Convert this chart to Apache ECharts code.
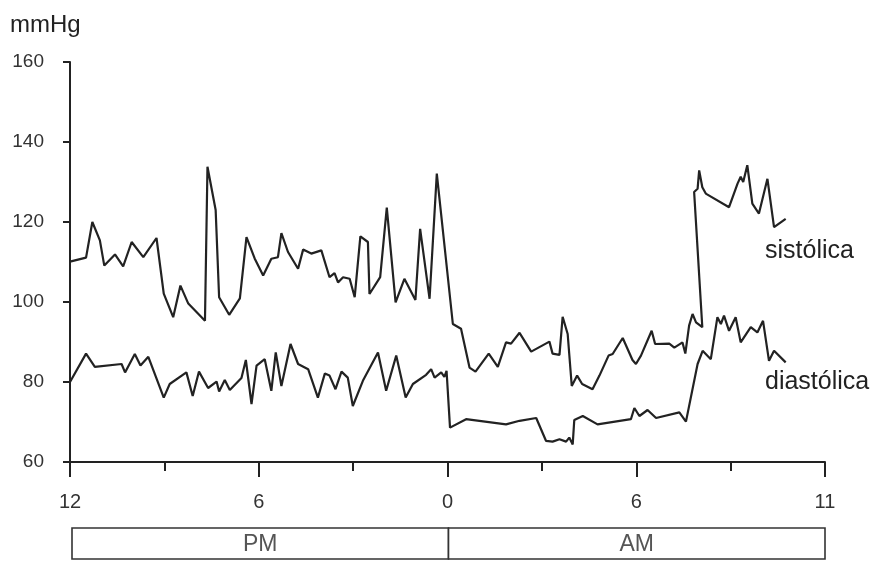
<!DOCTYPE html>
<html>
<head>
<meta charset="utf-8">
<script src="https://cdn.jsdelivr.net/npm/echarts@6/dist/echarts.min.js"></script>
<style>
html,body{margin:0;padding:0;background:#fff;}
#chart{width:879px;height:565px;}
</style>
</head>
<body>
<div id="chart"></div>
<script>
// hours after 12 PM (noon), mmHg
const systolic = [[0,110.1],[0.51,111.1],[0.71,120],[0.95,115.4],[1.09,109.1],[1.43,111.9],[1.69,108.9],[1.96,115],[2.33,111.2],[2.75,116],[2.98,102.1],[3.28,96.2],[3.51,104.1],[3.76,99.6],[4.29,95.3],[4.37,133.8],[4.63,123],[4.74,101.2],[5.06,96.8],[5.4,100.9],[5.61,116.2],[5.87,110.9],[6.14,106.6],[6.4,110.8],[6.61,111.2],[6.72,117.2],[6.93,112.5],[7.25,108.3],[7.41,113.1],[7.67,112.1],[7.99,112.9],[8.25,106.2],[8.41,107.2],[8.52,104.9],[8.68,106.2],[8.89,105.8],[9.05,101.2],[9.23,116.4],[9.47,115],[9.52,102],[9.86,106.2],[10.07,123.6],[10.35,99.9],[10.63,105.8],[10.98,100.5],[11.13,118.3],[11.43,100.8],[11.66,132.1],[12.17,94.5],[12.43,93.3],[12.7,83.6],[12.89,82.6],[13.31,87.1],[13.6,83.8],[13.86,89.9],[14.02,89.6],[14.29,92.3],[14.66,87.6],[15.24,90.1],[15.34,87.1],[15.56,86.8],[15.66,96.3],[15.82,92],[15.95,79],[16.12,81.6],[16.28,79.5],[16.61,78.2],[16.83,81.6],[17.12,86.6],[17.25,87],[17.57,91],[17.88,85.5],[17.99,84.5],[18.15,86.6],[18.49,92.8],[18.6,89.5],[19.05,89.6],[19.21,88.6],[19.47,89.9],[19.56,87.1],[19.68,94.1],[19.79,97],[19.9,94.9],[20.1,93.7],[19.84,127.5],[19.95,128.3],[20,132.9],[20.1,128.7],[20.21,127.1],[20.95,123.7],[21.22,129.6],[21.32,131.3],[21.4,130],[21.53,134.2],[21.69,124.6],[21.9,122.1],[22.17,130.8],[22.38,118.7],[22.75,120.8]];
const diastolic = [[0,80],[0.51,87.1],[0.79,83.8],[1.64,84.5],[1.75,82.4],[2.06,87],[2.24,84.1],[2.49,86.3],[2.98,76.1],[3.17,79.5],[3.7,82.4],[3.9,76.5],[4.1,82.6],[4.39,78.5],[4.66,80.1],[4.74,77.6],[4.92,80.5],[5.08,78],[5.45,81],[5.59,85.5],[5.77,74.5],[5.93,84.1],[6.19,85.7],[6.4,77.8],[6.54,87.4],[6.72,79],[7.01,89.5],[7.25,84.5],[7.57,83.2],[7.88,76.1],[8.1,82.1],[8.25,81.6],[8.44,78.2],[8.63,82.6],[8.83,81.1],[8.99,74],[9.31,80.3],[9.79,87.4],[10.05,77.8],[10.37,86.6],[10.67,76.1],[10.9,79.5],[11.32,81.8],[11.48,83.2],[11.59,81.1],[11.8,82.4],[11.9,81.3],[11.97,82.8],[12.08,68.6],[12.59,70.7],[13.86,69.4],[14.29,70.3],[14.82,71],[15.13,65.3],[15.34,65.1],[15.56,65.7],[15.77,65.1],[15.87,66.1],[15.98,64.4],[16.03,70.5],[16.3,71.5],[16.77,69.4],[17.83,70.7],[17.94,73.5],[18.1,71.5],[18.36,73],[18.63,71],[19.37,72.4],[19.58,70.1],[19.95,84.5],[20.11,87.8],[20.37,85.7],[20.58,96.2],[20.69,94.5],[20.79,96.6],[20.95,92.8],[21.16,96.2],[21.32,89.9],[21.64,93.7],[21.85,92.4],[22.03,95.3],[22.22,85.3],[22.38,87.8],[22.75,84.9]];
const xTickValues = [0, 6, 12, 18, 24];
const xTickLabels = ['12', '6', '0', '6', '11'];
const periodNames = ['PM', 'AM'];
const periodBounds = [[0, 12], [12, 24]];
const seriesNames = ['sistólica', 'diastólica'];
const yUnit = 'mmHg';

const FONT = '"Liberation Sans", Arial, Helvetica, sans-serif';
const INK = '#222';
const chart = echarts.init(document.getElementById('chart'), null, {renderer: 'canvas'});

const lineStyle = {color: INK, width: 2.2};

chart.setOption({
  animation: false,
  backgroundColor: '#fff',
  title: {
    text: yUnit, left: 10, top: 13, padding: 0,
    textStyle: {fontSize: 24, fontWeight: 'normal', color: INK, fontFamily: FONT}
  },
  grid: [
    {left: 70, right: 54, top: 62, bottom: 103},
    {left: 72, right: 54, top: 528, height: 31}
  ],
  xAxis: [
    {
      type: 'value', gridIndex: 0, min: 0, max: 24, interval: 6,
      axisLine: {show: true, onZero: false, lineStyle: {color: INK, width: 2}},
      axisTick: {show: true, length: 15, lineStyle: {color: INK, width: 2}},
      minorTick: {show: true, splitNumber: 2, length: 9, lineStyle: {color: INK, width: 2}},
      axisLabel: {
        margin: 30, fontSize: 20, color: '#333', fontFamily: FONT,
        formatter: v => { const i = xTickValues.indexOf(v); return i >= 0 ? xTickLabels[i] : ''; }
      },
      splitLine: {show: false}, minorSplitLine: {show: false}
    },
    {type: 'value', gridIndex: 1, min: 0, max: 24, show: false}
  ],
  yAxis: [
    {
      type: 'value', gridIndex: 0, min: 60, max: 160, interval: 20,
      axisLine: {show: true, onZero: false, lineStyle: {color: INK, width: 2}},
      axisTick: {show: true, length: 7, lineStyle: {color: INK, width: 2}},
      axisLabel: {margin: 26, fontSize: 19, color: '#333', fontFamily: FONT},
      splitLine: {show: false}
    },
    {type: 'value', gridIndex: 1, min: 0, max: 1, show: false}
  ],
  series: [
    {
      name: seriesNames[0], type: 'line', xAxisIndex: 0, yAxisIndex: 0,
      data: systolic, symbol: 'none', lineStyle: lineStyle, z: 3
    },
    {
      name: seriesNames[1], type: 'line', xAxisIndex: 0, yAxisIndex: 0,
      data: diastolic, symbol: 'none', lineStyle: lineStyle, z: 3
    },
    {
      type: 'custom', xAxisIndex: 1, yAxisIndex: 1, clip: false,
      data: periodBounds.map((b, i) => [b[0], b[1], i]),
      encode: {x: [0, 1]},
      renderItem: function (params, api) {
        const a = api.coord([api.value(0), 1]);
        const b = api.coord([api.value(1), 0]);
        return {
          type: 'group',
          children: [
            {type: 'rect', shape: {x: a[0], y: a[1], width: b[0] - a[0], height: b[1] - a[1]},
             style: {fill: '#fff', stroke: '#333', lineWidth: 1.6}},
            {type: 'text', x: (a[0] + b[0]) / 2, y: (a[1] + b[1]) / 2 + 1,
             style: {text: periodNames[api.value(2)], align: 'center', verticalAlign: 'middle',
                     fontSize: 23, fontFamily: FONT, fill: '#555'}}
          ]
        };
      }
    }
  ],
  graphic: [
    {type: 'text', x: 765, y: 251,
     style: {text: seriesNames[0], fontSize: 25, fontFamily: FONT, fill: INK, verticalAlign: 'middle'}},
    {type: 'text', x: 765, y: 382,
     style: {text: seriesNames[1], fontSize: 25, fontFamily: FONT, fill: INK, verticalAlign: 'middle'}}
  ]
});
</script>
</body>
</html>
